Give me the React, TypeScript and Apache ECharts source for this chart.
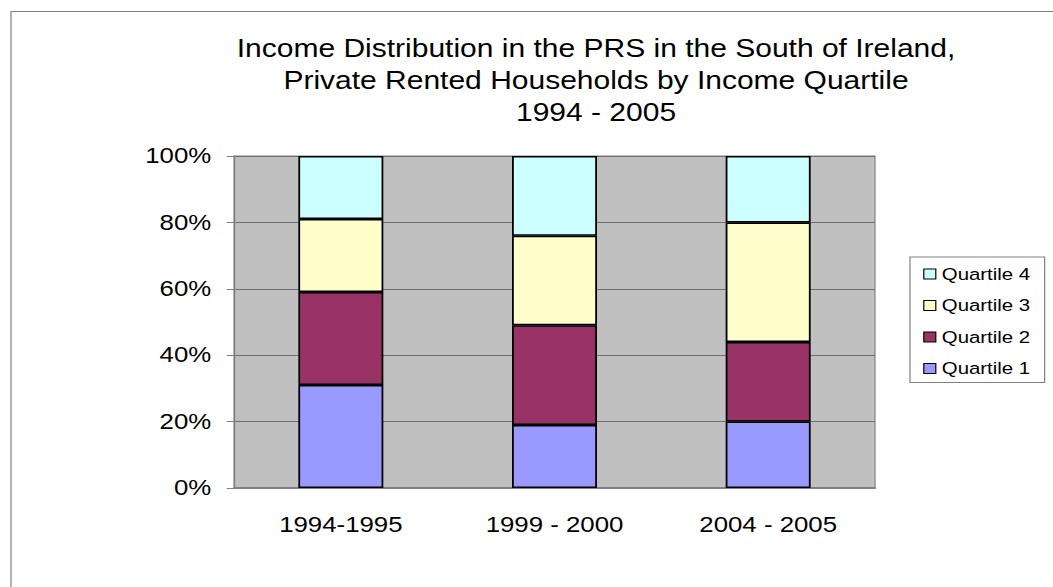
import React, { useEffect, useRef } from "react";
import * as echarts from "echarts";

const categories = ["1994-1995", "1999 - 2000", "2004 - 2005"];
const quartile1 = [31, 19, 20];
const quartile2 = [28, 30, 24];
const quartile3 = [22, 27, 36];
const quartile4 = [19, 24, 20];
const seriesNames = ["Quartile 1", "Quartile 2", "Quartile 3", "Quartile 4"];
const seriesColors = ["#9999FF", "#993366", "#FFFFCC", "#CCFFFF"];
const titleLines = [
  "Income Distribution in the PRS in the South of Ireland,",
  "Private Rented Households by Income Quartile",
  "1994 - 2005",
];

const FONT = "'Liberation Sans', Arial, sans-serif";
// the reference picture is stretched horizontally
const SX = 1.2;
const W = 1053 / SX;

export default function App() {
  const ref = useRef<HTMLDivElement>(null);
  useEffect(() => {
    document.body.style.margin = "0";
    if (!ref.current) return;
    const chart = echarts.init(ref.current, undefined, { renderer: "svg" });
    const values = [quartile1, quartile2, quartile3, quartile4];
    chart.setOption({
      animation: false,
      backgroundColor: "#ffffff",
      title: {
        text: titleLines.join("\n"),
        left: 590 / SX,
        top: 27,
        textAlign: "center",
        textStyle: {
          fontFamily: FONT,
          fontSize: 25,
          fontWeight: "normal",
          color: "#000",
          lineHeight: 32,
        },
      },
      graphic: [
        {
          type: "rect",
          shape: { x: 11 / SX, y: 11.5, width: 1200, height: 800 },
          style: { fill: "none", stroke: "#808080", lineWidth: 1 },
          z: -10,
        },
      ],
      legend: {
        orient: "vertical",
        left: 910 / SX,
        top: 257,
        data: ["Quartile 4", "Quartile 3", "Quartile 2", "Quartile 1"],
        icon: "rect",
        itemWidth: 10,
        itemHeight: 10,
        itemGap: 13.5,
        padding: [8, 12, 5, 11],
        borderColor: "#808080",
        borderWidth: 1,
        backgroundColor: "#fff",
        itemStyle: { borderColor: "#000", borderWidth: 1 },
        textStyle: {
          fontFamily: FONT,
          fontSize: 17,
          color: "#000",
          lineHeight: 18,
        },
      },
      grid: {
        left: 234 / SX,
        top: 156,
        width: 641 / SX,
        height: 332,
        show: true,
        backgroundColor: "#C0C0C0",
        borderColor: "#808080",
        borderWidth: 1,
      },
      xAxis: {
        type: "category",
        data: categories,
        axisLine: { show: true, lineStyle: { color: "#808080", width: 2 } },
        axisTick: { show: false },
        axisLabel: {
          fontFamily: FONT,
          fontSize: 21.5,
          color: "#000",
          margin: 26,
        },
      },
      yAxis: {
        type: "value",
        min: 0,
        max: 100,
        interval: 20,
        axisLine: { show: true, lineStyle: { color: "#808080", width: 1 } },
        axisTick: { show: true, length: 6, lineStyle: { color: "#808080" } },
        axisLabel: {
          formatter: "{value}%",
          fontFamily: FONT,
          fontSize: 21.5,
          color: "#000",
          margin: 19,
        },
        splitLine: { show: true, lineStyle: { color: "#707070", width: 1 } },
      },
      series: seriesNames.map((name, i) => ({
        name,
        type: "bar",
        stack: "total",
        data: values[i],
        barWidth: 85 / SX,
        itemStyle: {
          color: seriesColors[i],
          borderColor: "#000",
          borderWidth: 1.5,
        },
      })),
    });
    return () => chart.dispose();
  }, []);
  return (
    <div
      ref={ref}
      style={{
        width: W,
        height: 587,
        transform: `scaleX(${SX})`,
        transformOrigin: "0 0",
      }}
    />
  );
}
